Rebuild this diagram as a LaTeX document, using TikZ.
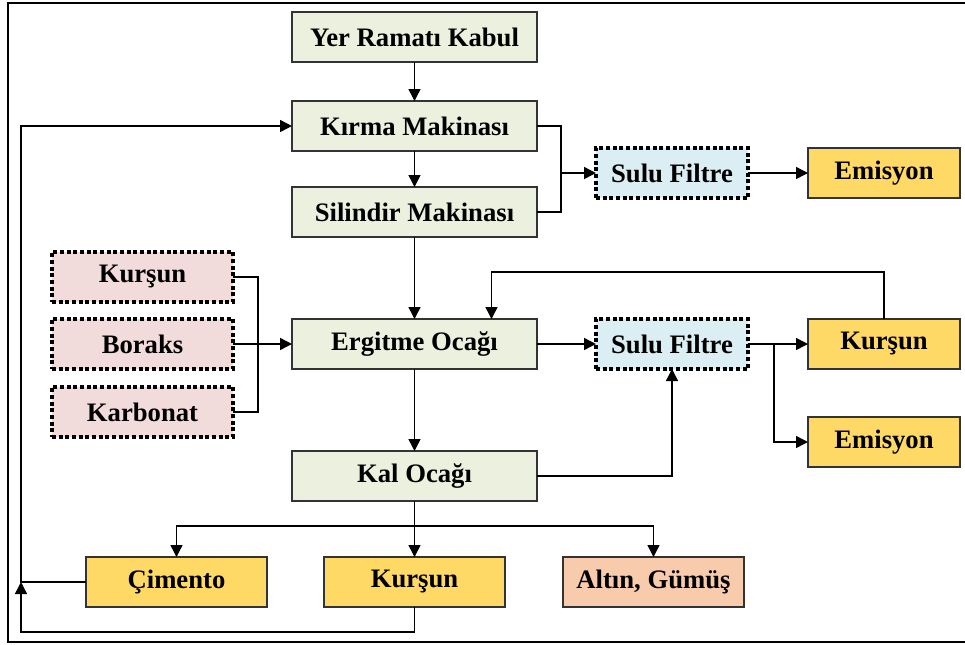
\documentclass[tikz,border=0pt]{standalone}
\usepackage{fontspec}
\setmainfont{Liberation Serif}
\usepackage{tikz}
\usetikzlibrary{arrows.meta,positioning,calc}

\definecolor{stagefill}{HTML}{EBF1DE}
\definecolor{filterfill}{HTML}{DBEEF3}
\definecolor{addfill}{HTML}{F2DCDB}
\definecolor{outfill}{HTML}{FFD966}
\definecolor{goldfill}{HTML}{F8CBAD}
\definecolor{edge}{HTML}{333333}

\begin{document}
\begin{tikzpicture}[
x=0.75pt, y=-0.75pt,
font=\fontsize{20}{22}\selectfont\bfseries,
box/.style={rectangle, draw=edge, line width=1.1pt, inner sep=0pt, outer sep=0pt, align=center, minimum height=37.5pt},
stage/.style={box, fill=stagefill, minimum width=183.75pt},
filter/.style={box, fill=filterfill, draw=black, line width=2.3pt, dash pattern=on 3pt off 2pt, minimum width=114pt},
additive/.style={box, fill=addfill, draw=black, line width=2.3pt, dash pattern=on 3pt off 2pt, minimum width=135.75pt},
output/.style={box, fill=outfill, minimum width=114pt},
product/.style={box, fill=outfill, minimum width=135.75pt},
line/.style={draw=black, line width=1.1pt},
arrow/.style={line, -{Triangle[length=9pt, width=9pt]}}
]
\useasboundingbox (0,0) rectangle (965,644);
\clip (0,0) rectangle (965,644);
\draw[line width=1.8pt] (8,3) rectangle (990,642);

\node[stage] (yer) at (414.5,37) {Yer Ramatı Kabul};
\node[stage, below=29.25pt of yer] (kirma) {Kırma Makinası};
\node[stage, below=27pt of kirma] (silindir) {Silindir Makinası};
\node[stage, below=61.5pt of silindir] (ergitme) {Ergitme Ocağı};
\node[stage, below=61.5pt of ergitme] (kal) {Kal Ocağı};
\node[filter] (sulu1) at (672,173) {Sulu Filtre};
\node[output, right=45pt of sulu1] (emis1) {Emisyon};
\node[filter, right=44.25pt of ergitme] (sulu2) {Sulu Filtre};
\node[output, right=45pt of sulu2] (kursunR) {Kurşun};
\node[output, below=36pt of kursunR] (emis2) {Emisyon};
\node[additive, left=44.25pt of ergitme] (boraks) {Boraks};
\node[additive, above=12.75pt of boraks] (kursunL) {Kurşun};
\node[additive, below=13.5pt of boraks] (karbonat) {Karbonat};
\node[product, below=42pt of kal] (kursunB) {Kurşun};
\node[product, left=42.75pt of kursunB] (cimento) {Çimento};
\node[product, right=43.5pt of kursunB, fill=goldfill] (altin) {Altın, Gümüş};

% upper line and first filter
\draw[arrow] (yer) -- (kirma);
\draw[arrow] (kirma) -- (silindir);
\path (kirma.east) ++(24,0) coordinate (k1);
\coordinate (m1) at (k1 |- sulu1.west);
\draw[line] (kirma.east) -- (k1) |- (silindir.east);
\draw[arrow] (m1) -- (sulu1);
\draw[arrow] (sulu1) -- (emis1);
\draw[arrow] (silindir) -- (ergitme);

% additives
\draw[line] (kursunL.east) -- ++(25,0) |- (karbonat.east);
\draw[arrow] (boraks) -- (ergitme);

% second filter
\draw[arrow] (ergitme) -- (sulu2);
\draw[arrow] (sulu2) -- (kursunR);
\path (sulu2.east) ++(26,0) coordinate (s2);
\draw[arrow] (s2) |- (emis2);
\draw[arrow] (kursunR.north) -- ++(0,-47) -| ([xshift=57.75pt]ergitme.north);
\draw[arrow] (ergitme) -- (kal);
\draw[arrow] (kal.east) -| (sulu2.south);

% products
\draw[line] (kal.south) -- ++(0,25) coordinate (b1);
\draw[arrow] (b1) -| (cimento);
\draw[arrow] (b1) -| (altin);
\draw[arrow] (kal) -- (kursunB);

% return lines
\path (cimento.west) ++(-65,0) coordinate (fb);
\draw[arrow] (cimento.west) -- (fb) |- (kirma.west);
\draw[arrow] (kursunB.south) -- ++(0,25) -| (fb);
\end{tikzpicture}
\end{document}
